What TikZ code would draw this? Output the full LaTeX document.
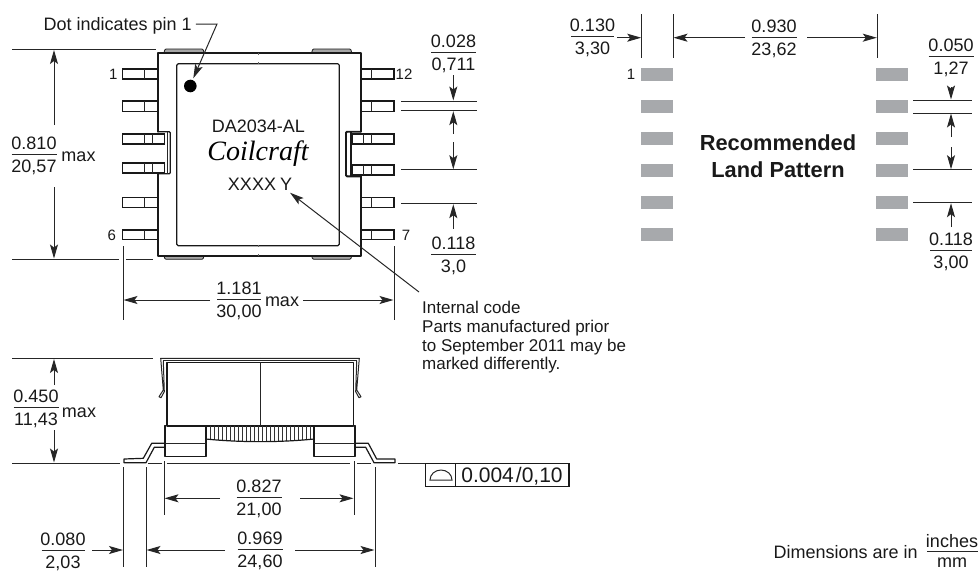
\documentclass[tikz,border=0pt]{standalone}
\usepackage{fontspec}
\setmainfont{Liberation Sans}
\newfontfamily\scriptface{Liberation Serif}
\usetikzlibrary{arrows.meta}
\tikzset{
  thinline/.style={line width=1pt,draw=black!85},
  medline/.style={line width=1.2pt,draw=black!90},
  heavy/.style={line width=1.9pt,draw=black!90,line cap=round,line join=round},
  dimarrow/.style={thinline,-{Stealth[length=14pt,width=8pt,inset=3pt]}},
  lbl/.style={inner sep=0pt,text height=13pt,text depth=0pt,font=\fontsize{18}{20}\selectfont,text=black!90},
  note/.style={lbl,anchor=west,text height=12.5pt,font=\fontsize{17}{19}\selectfont},
  small/.style={inner sep=0pt,text height=11pt,text depth=0pt,font=\fontsize{15}{17}\selectfont,text=black!90},
  boldlbl/.style={inner sep=0pt,text height=15pt,text depth=0pt,font=\fontsize{21.8}{24}\selectfont\bfseries,text=black!90},
  pad/.style={fill=padgrey,draw=none},
  tab/.style={fill=black!35,draw=black!90,line width=0.8pt,rounded corners=1pt},
}
\definecolor{padgrey}{HTML}{A7A9AC}
% name, x, y of rule, top, bottom, half width
\newcommand\dimfrac[6]{%
  \node[lbl] (#1t) at (#2,#3-11.5) {#4};
  \node[lbl] (#1b) at (#2,#3+11.5) {#5};
  \draw[thinline] ({#2-#6},#3) -- ({#2+#6},#3);}
% x0, x1, y0, y1, list of dividers
\newcommand\pinbox[5]{%
  \draw[medline,line width=1.6pt] (#1,#3) rectangle (#2,#4);
  \foreach \dv in {#5} \draw[thinline] (\dv,#3) -- (\dv,#4);}
\begin{document}
\begin{tikzpicture}[x=1pt,y=-1pt]
\useasboundingbox (0,0) rectangle (979,571);
% ---------- top view ----------
\foreach \xa/\xb in {164/204,311.7/351.7}{
  \draw[tab] (\xa,52.7) -- (\xa+1,49) -- (\xb-1,49) -- (\xb,52.7);
  \draw[tab] (\xa,256) -- (\xa+1,259.3) -- (\xb-1,259.3) -- (\xb,256);
}
\foreach \ya/\yb in {69/79,101/111.3,197.3/207.3,230/239.3}{
  \pinbox{122.3}{157.7}{\ya}{\yb}{144.3}
  \pinbox{360.7}{394}{\ya}{\yb}{371.7}
}
\pinbox{122.3}{164.3}{133.7}{143.7}{144.3,152.3}
\pinbox{122.3}{164.3}{162.7}{172.7}{144.3,152.3}
\pinbox{351.7}{394}{133.7}{143.7}{363.3,371.7}
\pinbox{351.7}{394}{165}{175}{363.3,371.7}
\draw[heavy] (157.7,131.7) -- (157.7,52.7) -- (360.7,52.7) -- (360.7,131.7);
\draw[heavy] (360.7,176.3) -- (360.7,256) -- (157.7,256) -- (157.7,173.7);
\draw[medline,rounded corners=1.5pt] (176.7,63.7) rectangle (339.3,245.7);
\draw[medline,rounded corners=1pt] (157.7,131.7) -- (170.3,131.7) -- (170.3,173.7) -- (157.7,173.7);
\draw[thinline] (167.8,131.7) -- (167.8,173.7);
\draw[heavy,rounded corners=1pt] (360.7,131.7) -- (346,131.7) -- (346,176.3) -- (360.7,176.3);
\draw[medline] (351,131.7) -- (351,176.3);
\foreach \ya/\yb in {52.7/55,62/64,244.5/246.5,254/256}
  \draw[thinline,draw=black!60] (258,\ya) -- (258,\yb);
\fill[black] (190.3,86) circle (6.3);
\node[small] (p1) at (113.3,74) {1};
\node[small] (p6) at (111.7,235) {6};
\node[small] (p12) at (404,74) {12};
\node[small] (p7) at (406,235) {7};
\node[lbl] (partno) at (258.3,126) {DA2034-AL};
\node[inner sep=0pt,font=\fontsize{28}{30}\selectfont\scriptface\itshape] (brand) at (258,154) {Coilcraft};
\node[lbl] (code) at (260,184) {XXXX\kern4pt Y};
\node[lbl,anchor=west] (dotnote) at (43.5,24) {Dot indicates pin 1};
\coordinate (dotelbow) at (217,24);
\coordinate (dottip) at (193.3,78.3);
\draw[dimarrow] (dotnote.east) ++(4,0) -- (dotelbow) -- (dottip);
\coordinate (codetip) at (290,192.7);
\coordinate (codeend) at (419,292);
\draw[dimarrow] (codeend) -- (codetip);
\node[note] (n1) at (422,307) {Internal code};
\node[note] (n2) at (422,326) {Parts manufactured prior};
\node[note] (n3) at (422,345) {to September 2011 may be};
\node[note] (n4) at (422,363) {marked differently.};
% height dimension
\draw[thinline] (12,49.5) -- (155.7,49.5);
\draw[thinline] (12,259) -- (119,259) (126,259) -- (153,259);
\draw[dimarrow] (54,125) -- (54,50);
\draw[dimarrow] (54,187) -- (54,258.5);
\dimfrac{a}{34}{154.5}{0.810}{20,57}{22.5}
\node[lbl] (amax) at (78.5,155) {max};
% width dimension
\draw[thinline] (123,246) -- (123,320);
\draw[thinline] (394,246) -- (394,320);
\draw[dimarrow] (210,300) -- (123.5,300);
\draw[dimarrow] (303,300) -- (393.5,300);
\dimfrac{b}{239}{299.5}{1.181}{30,00}{22}
\node[lbl] (bmax) at (282,300) {max};
% pin dimension
\foreach \yy in {101,110.7,169.7,203.7} \draw[thinline] (401,\yy) -- (476.7,\yy);
\draw[dimarrow] (453.3,75) -- (453.3,100.5);
\draw[dimarrow] (453.3,134) -- (453.3,111.2);
\draw[dimarrow] (453.3,142) -- (453.3,169.2);
\draw[dimarrow] (453.3,229) -- (453.3,204.2);
\dimfrac{c}{453.5}{52.5}{0.028}{0,711}{22.5}
\dimfrac{d}{453.5}{254}{0.118}{3,0}{22.5}
% ---------- side view ----------
\draw[heavy,line width=1.6pt] (166.7,362.3) rectangle (353.3,425.7);
\draw[thinline] (260,362.3) -- (260,425.7);
\draw[thinline,line join=round] (163.3,360.7) -- (356.7,360.7);
\foreach \sgn in {1,-1}{
  \begin{scope}[shift={(260,0)},x={(\sgn*1pt,0pt)}]
    \draw[thinline,line join=round] (0,358.3) -- (-99.3,358.3) -- (-96.7,390) -- (-101,396.7) -- (-99,397.7) -- (-95.7,391.7) -- (-96.7,360.7);
  \end{scope}
}
\begin{scope}
  \clip (206,425.7) -- (314,425.7) -- (314,439) .. controls (280,442.5) and (240,442.5) .. (206,439) -- cycle;
  \foreach \hx in {206,210,...,314} \draw[line width=1pt,draw=black!80] (\hx,425) -- (\hx,443);
\end{scope}
\draw[medline] (206,439) .. controls (240,442.5) and (280,442.5) .. (314,439);
\draw[heavy,line width=1.4pt] (165,425.7) rectangle (206,456.7);
\draw[heavy,line width=1.4pt] (314,425.7) rectangle (355,456.7);
\draw[thinline] (165,443.3) -- (206,443.3) (314,443.3) -- (355,443.3);
\draw[medline,line join=round] (165,443.3) -- (151.7,443.3) -- (143.3,458.3) -- (124,459) -- (124,462.7) -- (146,462.7) -- (154.3,447.3) -- (165,447.3);
\draw[medline,line join=round] (355,443.3) -- (368.3,443.3) -- (376.7,459) -- (395,459) -- (395,462.7) -- (374,462.7) -- (365.7,447.3) -- (355,447.3);
% side view dimensions
\draw[thinline] (12,358.5) -- (152.7,358.5);
\draw[thinline] (12,463) -- (120,463) (148,463) -- (161.7,463) (166.7,463) -- (350,463) (357,463) -- (370.7,463) (398,463) -- (425.7,463);
\draw[dimarrow] (54,385) -- (54,359);
\draw[dimarrow] (54,430) -- (54,462.5);
\dimfrac{e}{36}{407}{0.450}{11,43}{22.5}
\node[lbl] (emax) at (79,411) {max};
\foreach \xx in {123.5,146,375} \draw[thinline] (\xx,467) -- (\xx,567);
\foreach \xx in {164,354} \draw[thinline] (\xx,461) -- (\xx,515);
\draw[dimarrow] (220,498.3) -- (164.5,498.3);
\draw[dimarrow] (300,498.3) -- (353.5,498.3);
\dimfrac{f}{259}{497}{0.827}{21,00}{22.5}
\draw[dimarrow] (225,550) -- (146.5,550);
\draw[dimarrow] (295,550) -- (374.5,550);
\dimfrac{g}{260}{549}{0.969}{24,60}{22.5}
\draw[dimarrow] (92,550) -- (123,550);
\dimfrac{h}{63}{550}{0.080}{2,03}{21.5}
% tolerance frame
\draw[medline,line width=1.3pt] (425.7,463.3) rectangle (569,486.7);
\draw[medline,line width=1.3pt] (455.7,463.3) -- (455.7,486.7);
\draw[thinline] (430,480) -- (452,480) arc[start angle=0,end angle=180,x radius=11,y radius=-10] -- cycle;
\node[lbl,text height=15pt,font=\fontsize{21}{23}\selectfont] (tol) at (512,475) {0.004\kern2pt/0,10};
% ---------- land pattern ----------
\foreach \ya/\yb in {68/81,100/113,132/145,164/177,196/209,228/241}{
  \fill[pad] (641,\ya) rectangle (673,\yb);
  \fill[pad] (876,\ya) rectangle (908,\yb);
}
\node[small] (lp1) at (631,74) {1};
\node[boldlbl] (rec) at (778,143) {Recommended};
\node[boldlbl] (lp) at (778,170) {Land Pattern};
\foreach \xx in {641.7,673,877.3} \draw[thinline] (\xx,14) -- (\xx,58);
\dimfrac{i}{592.5}{36.7}{0.130}{3,30}{21.5}
\draw[dimarrow] (617,37.7) -- (641.2,37.7);
\draw[dimarrow] (745,37.7) -- (673.5,37.7);
\draw[dimarrow] (807,37.7) -- (876.8,37.7);
\dimfrac{j}{774}{37}{0.930}{23,62}{22.5}
\foreach \yy in {100,113,169.7,202.7} \draw[thinline] (913,\yy) -- (972,\yy);
\draw[dimarrow] (951,87) -- (951,99.5);
\draw[dimarrow] (951,137) -- (951,113.5);
\draw[dimarrow] (951,147) -- (951,169.2);
\draw[dimarrow] (951,227) -- (951,203.2);
\dimfrac{k}{951}{56.7}{0.050}{1,27}{22.5}
\dimfrac{l}{951}{250}{0.118}{3,00}{21}
% note
\node[lbl,anchor=west] (dimnote) at (773.5,552) {Dimensions are in};
\node[lbl] (inch) at (952,540.5) {inches};
\draw[thinline] (927,551.5) -- (978,551.5);
\node[lbl] (mm) at (952,560.5) {mm};
\end{tikzpicture}
\end{document}
